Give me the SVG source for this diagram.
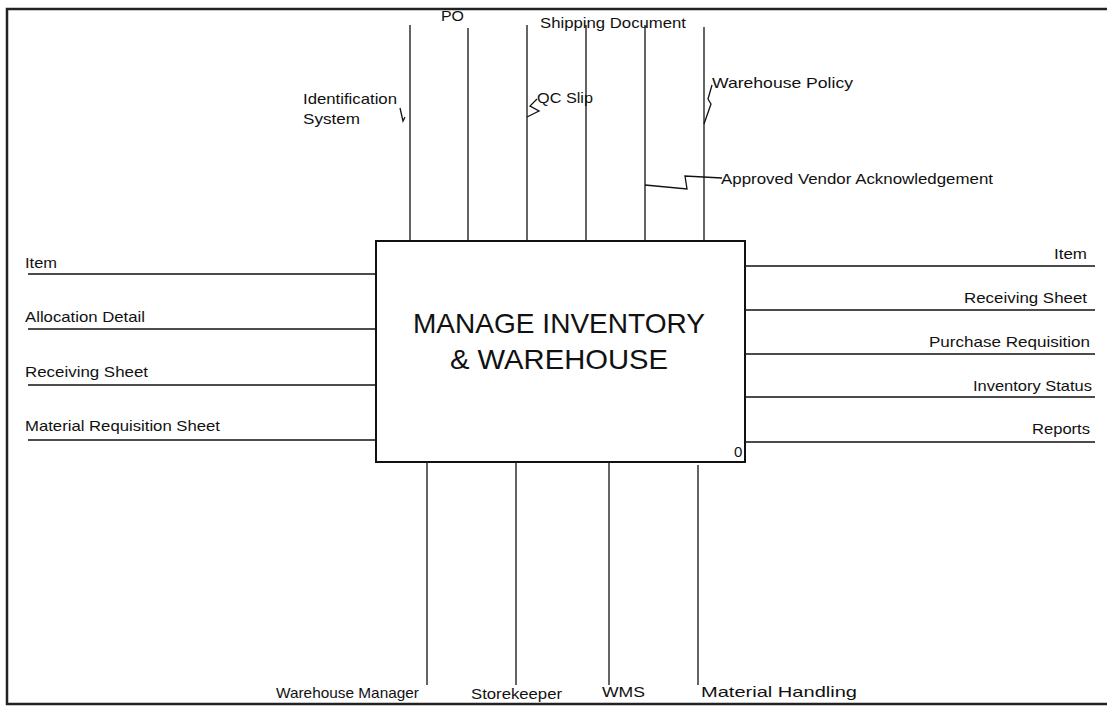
<svg xmlns="http://www.w3.org/2000/svg" width="1107" height="706" viewBox="0 0 1107 706">
<style>
.t{font-family:"Liberation Sans",Arial,sans-serif;font-size:15px;fill:#111}
.ln{stroke:#111;stroke-width:1.3;fill:none}
.box{stroke:#111;stroke-width:2;fill:#fff}
.title{font-family:"Liberation Sans",Arial,sans-serif;font-size:28px;fill:#111}
</style>
<rect x="0" y="0" width="1107" height="706" fill="#fff"/>
<path d="M1107,9 L7,9 L7,704 L1107,704" stroke="#222" stroke-width="2.5" fill="none"/>
<g id="connectors">
<line class="ln" x1="410" y1="25" x2="410" y2="241"/>
<line class="ln" x1="468" y1="28" x2="468" y2="241"/>
<line class="ln" x1="527" y1="25" x2="527" y2="241"/>
<line class="ln" x1="586" y1="25" x2="586" y2="241"/>
<line class="ln" x1="645" y1="25" x2="645" y2="241"/>
<line class="ln" x1="704" y1="27" x2="704" y2="241"/>
<polyline class="ln" points="400,108 403,121 405,117"/>
<polyline class="ln" points="537,99 530,106 539,111 527,117"/>
<polyline class="ln" points="712,85 708,99 711,104 704,124"/>
<polyline class="ln" points="645,185 687,189 685,176 722,178"/>
<line class="ln" x1="28" y1="274" x2="376" y2="274"/>
<line class="ln" x1="28" y1="329" x2="376" y2="329"/>
<line class="ln" x1="28" y1="385" x2="376" y2="385"/>
<line class="ln" x1="28" y1="440" x2="376" y2="440"/>
<line class="ln" x1="745" y1="266" x2="1095" y2="266"/>
<line class="ln" x1="745" y1="310" x2="1095" y2="310"/>
<line class="ln" x1="745" y1="354" x2="1095" y2="354"/>
<line class="ln" x1="745" y1="397" x2="1095" y2="397"/>
<line class="ln" x1="745" y1="442" x2="1095" y2="442"/>
<line class="ln" x1="427" y1="462" x2="427" y2="685"/>
<line class="ln" x1="516" y1="462" x2="516" y2="685"/>
<line class="ln" x1="609" y1="462" x2="609" y2="685"/>
<line class="ln" x1="698" y1="465" x2="698" y2="685"/>
</g>
<g id="node-main">
<rect class="box" x="376" y="241" width="369" height="221"/>
<text class="title" x="413" y="333" textLength="292" lengthAdjust="spacingAndGlyphs">MANAGE INVENTORY</text>
<text class="title" x="450" y="369" textLength="218" lengthAdjust="spacingAndGlyphs">&amp; WAREHOUSE</text>
<text class="t" x="734" y="457" font-size="11">0</text>
</g>
<g id="labels">
<text class="t" x="441" y="21" textLength="23" lengthAdjust="spacingAndGlyphs">PO</text>
<text class="t" x="540" y="28" textLength="146" lengthAdjust="spacingAndGlyphs">Shipping Document</text>
<text class="t" x="303" y="104" textLength="94" lengthAdjust="spacingAndGlyphs">Identification</text>
<text class="t" x="303" y="124" textLength="57" lengthAdjust="spacingAndGlyphs">System</text>
<text class="t" x="537" y="103" textLength="56" lengthAdjust="spacingAndGlyphs">QC Slip</text>
<text class="t" x="712" y="88" textLength="141" lengthAdjust="spacingAndGlyphs">Warehouse Policy</text>
<text class="t" x="721" y="184" textLength="272" lengthAdjust="spacingAndGlyphs">Approved Vendor Acknowledgement</text>
<text class="t" x="25" y="268" textLength="32" lengthAdjust="spacingAndGlyphs">Item</text>
<text class="t" x="25" y="322" textLength="120" lengthAdjust="spacingAndGlyphs">Allocation Detail</text>
<text class="t" x="25" y="377" textLength="123" lengthAdjust="spacingAndGlyphs">Receiving Sheet</text>
<text class="t" x="25" y="431" textLength="195" lengthAdjust="spacingAndGlyphs">Material Requisition Sheet</text>
<text class="t" x="1054" y="259" textLength="33" lengthAdjust="spacingAndGlyphs">Item</text>
<text class="t" x="964" y="303" textLength="123" lengthAdjust="spacingAndGlyphs">Receiving Sheet</text>
<text class="t" x="929" y="347" textLength="161" lengthAdjust="spacingAndGlyphs">Purchase Requisition</text>
<text class="t" x="973" y="391" textLength="119" lengthAdjust="spacingAndGlyphs">Inventory Status</text>
<text class="t" x="1032" y="434" textLength="58" lengthAdjust="spacingAndGlyphs">Reports</text>
<text class="t" x="276" y="698" textLength="143" lengthAdjust="spacingAndGlyphs">Warehouse Manager</text>
<text class="t" x="471" y="699" textLength="91" lengthAdjust="spacingAndGlyphs">Storekeeper</text>
<text class="t" x="602" y="697" textLength="43" lengthAdjust="spacingAndGlyphs">WMS</text>
<text class="t" x="701" y="697" textLength="156" lengthAdjust="spacingAndGlyphs">Material Handling</text>
</g>
</svg>
